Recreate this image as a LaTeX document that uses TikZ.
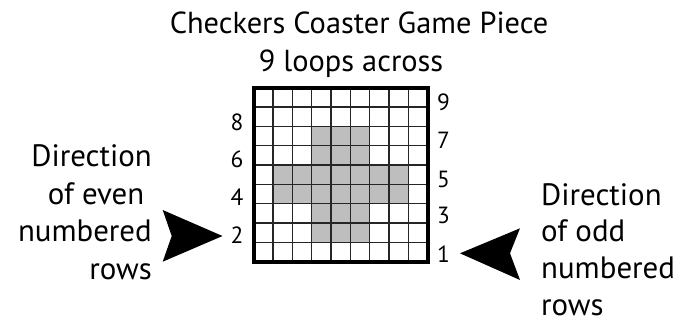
\documentclass[tikz,border=0pt]{standalone}
\usepackage{fontspec}
\setmainfont{PT Sans}
\definecolor{cellgray}{RGB}{190,190,190}
\begin{document}
\begin{tikzpicture}[x=1bp,y=-1bp,
  titletext/.style={font=\fontsize{30.5}{36}\selectfont, inner sep=0pt},
  sidetext/.style={font=\fontsize{31}{37}\selectfont, inner sep=0pt},
  rownum/.style={font=\fontsize{23.5}{27}\selectfont, inner sep=0pt},
  gridline/.style={line width=1.4bp, draw=black!85},
  border/.style={line width=4bp, draw=black},
  arrowhead/.style={fill=black, draw=none}]
\useasboundingbox (0,0) rectangle (681,325);
\def\gl{253.8}\def\gt{87.8}\def\cs{19.33}
% shaded cross
\fill[cellgray] (\gl+3*\cs,\gt+2*\cs) rectangle (\gl+6*\cs,\gt+8*\cs);
\fill[cellgray] (\gl+1*\cs,\gt+4*\cs) rectangle (\gl+8*\cs,\gt+6*\cs);
% grid lines
\foreach \i in {1,...,8}{
  \draw[gridline] (\gl+\i*\cs,\gt) -- (\gl+\i*\cs,\gt+9*\cs);
  \draw[gridline] (\gl,\gt+\i*\cs) -- (\gl+9*\cs,\gt+\i*\cs);
}
\draw[border] (\gl,\gt) rectangle (\gl+9*\cs,\gt+9*\cs);
% title
\node[titletext, anchor=base] (t1) at (359,33.3) {Checkers Coaster Game Piece};
\node[titletext, anchor=base] (t2) at (351,71.7) {9 loops across};
% row numbers
\node[rownum, anchor=east] (n8) at (243.5,122) {8};
\node[rownum, anchor=east] (n6) at (243.5,159.5) {6};
\node[rownum, anchor=east] (n4) at (243.5,197.5) {4};
\node[rownum, anchor=east] (n2) at (243.5,235.5) {2};
\node[rownum, anchor=west] (n9) at (437,102) {9};
\node[rownum, anchor=west] (n7) at (437,140.5) {7};
\node[rownum, anchor=west] (n5) at (437,179.5) {5};
\node[rownum, anchor=west] (n3) at (437,215.5) {3};
\node[rownum, anchor=west] (n1) at (437,254.5) {1};
% left text
\node[sidetext, anchor=base east] (l1) at (152,166.7) {Direction};
\node[sidetext, anchor=base east] (l2) at (144.5,204.3) {of even};
\node[sidetext, anchor=base east] (l3) at (152,241.7) {numbered};
\node[sidetext, anchor=base east] (l4) at (152,279.3) {rows};
% right text
\node[sidetext, anchor=base west] (r1) at (541,205.5) {Direction};
\node[sidetext, anchor=base west] (r2) at (541,241.7) {of odd};
\node[sidetext, anchor=base west] (r3) at (541,278.3) {numbered};
\node[sidetext, anchor=base west] (r4) at (541,315) {rows};
% arrows
\coordinate (lt) at (222.5,236);
\coordinate (ra) at (460,253.3);
\fill[arrowhead] (lt) -- (162.7,210) -- (171.7,236) -- (162.7,261.7) -- cycle;
\fill[arrowhead] (ra) -- (520,228.3) -- (510,253.3) -- (520,280) -- cycle;
\end{tikzpicture}
\end{document}
